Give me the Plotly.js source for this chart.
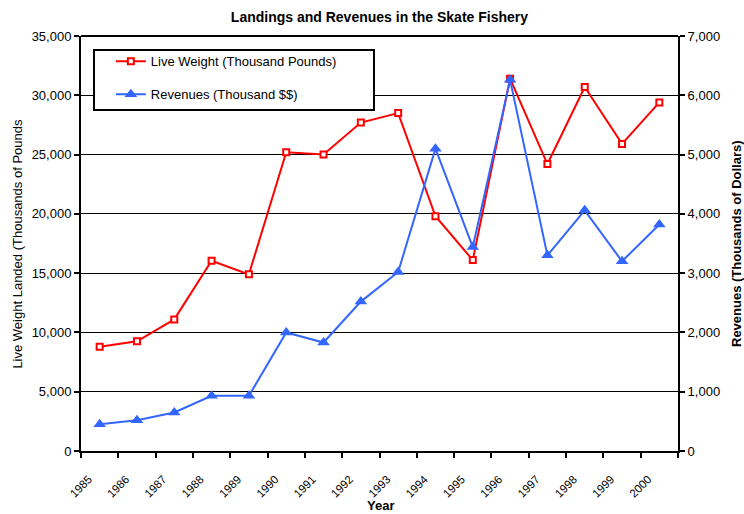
<!DOCTYPE html>
<html>
<head>
<meta charset="utf-8">
<script src="https://cdn.plot.ly/plotly-3.0.1.min.js"></script>
<style>body{margin:0;background:#fff}#chart{width:744px;height:514px}</style>
</head>
<body>
<div id="chart"></div>
<script>
const years = ['1985','1986','1987','1988','1989','1990','1991','1992','1993','1994','1995','1996','1997','1998','1999','2000'];
const liveWeight = [8800, 9250, 11100, 16050, 14900, 25200, 25000, 27700, 28500, 19800, 16100, 31400, 24200, 30700, 25900, 29400];
const revenues = [450, 520, 650, 930, 930, 2000, 1830, 2520, 3020, 5100, 3440, 6260, 3300, 4060, 3200, 3820];
const leftTicks = [0, 5000, 10000, 15000, 20000, 25000, 30000, 35000];
const rightTicks = [0, 1000, 2000, 3000, 4000, 5000, 6000, 7000];

const FONT = 'Liberation Sans, Arial, sans-serif';
const traces = [
  {x: years, y: liveWeight, type: 'scatter', mode: 'lines+markers', name: 'Live Weight (Thousand Pounds)',
   legendgroup: 'a', line: {color: '#ff0000', width: 2},
   marker: {symbol: 'square', size: 6, color: '#ffffff', line: {color: '#ff0000', width: 2}}},
  {x: years, y: revenues, type: 'scatter', mode: 'lines+markers', name: 'Revenues (Thousand $$)',
   legendgroup: 'b', yaxis: 'y2', line: {color: '#3366ff', width: 2},
   marker: {symbol: 'triangle-up', size: 11, color: '#3366ff'}}
];
const layout = {
  width: 744, height: 514,
  margin: {l: 81, r: 66, t: 36, b: 63},
  paper_bgcolor: '#fff', plot_bgcolor: '#fff',
  font: {family: FONT, size: 13, color: '#000'},
  title: {text: '<b>Landings and Revenues in the Skate Fishery</b>', font: {family: FONT, size: 14, color: '#000'},
          x: 0.51, xanchor: 'center', y: 0.967, yanchor: 'middle'},
  showlegend: true,
  legend: {x: 0.05, xanchor: 'left', y: 0.975, yanchor: 'top', bgcolor: 'rgba(0,0,0,0)', borderwidth: 0,
           tracegroupgap: 13, font: {family: FONT, size: 13, color: '#000'}},
  xaxis: {type: 'category', categoryorder: 'array', categoryarray: years, range: [-0.5, 15.5],
          tickson: 'boundaries', ticks: 'outside', ticklen: 5, tickwidth: 2, tickcolor: '#000',
          showline: true, linecolor: '#000', linewidth: 2, showgrid: false, zeroline: false,
          tickangle: -45, tickfont: {family: FONT, size: 11.5, color: '#000'},
          ticklabelstandoff: 15, ticklabelshift: -11},
  yaxis: {range: [0, 35000], tickvals: leftTicks, tickformat: ',d', ticks: 'outside', ticklen: 5, tickwidth: 2,
          tickcolor: '#000', showline: true, linecolor: '#000', linewidth: 2, showgrid: true,
          gridcolor: '#000', gridwidth: 1, zeroline: false, tickfont: {family: FONT, size: 13, color: '#000'}},
  yaxis2: {range: [0, 7000], tickvals: rightTicks, tickformat: ',d', overlaying: 'y', side: 'right',
           ticks: 'outside', ticklen: 5, tickwidth: 2, tickcolor: '#000', showline: true, linecolor: '#000',
           linewidth: 2, showgrid: false, zeroline: false, tickfont: {family: FONT, size: 13, color: '#000'}},
  shapes: [
    {type: 'line', xref: 'paper', yref: 'paper', x0: 0, x1: 1, y0: 1, y1: 1, line: {color: '#000', width: 2}, layer: 'above'},
    {type: 'rect', xref: 'paper', yref: 'paper', x0: (94-81)/597, x1: (374-81)/597, y0: (451-110)/415, y1: (451-50)/415,
     fillcolor: '#fff', line: {color: '#000', width: 2}, layer: 'above'}
  ],
  annotations: [
    {text: 'Live Weight Landed (Thousands of Pounds', xref: 'paper', yref: 'paper', x: -0.107, y: 0.5,
     xanchor: 'center', yanchor: 'middle', textangle: -90, showarrow: false, font: {family: FONT, size: 13, color: '#000'}},
    {text: '<b>Revenues (Thousands of Dollars)</b>', xref: 'paper', yref: 'paper', x: 1.098, y: 0.5,
     xanchor: 'center', yanchor: 'middle', textangle: -90, showarrow: false, font: {family: FONT, size: 13, color: '#000'}},
    {text: '<b>Year</b>', xref: 'paper', yref: 'paper', x: 0.501, y: -0.131, xanchor: 'center', yanchor: 'middle',
     showarrow: false, font: {family: FONT, size: 13, color: '#000'}}
  ]
};
Plotly.newPlot('chart', traces, layout, {displayModeBar: false, staticPlot: true});
</script>
</body>
</html>
